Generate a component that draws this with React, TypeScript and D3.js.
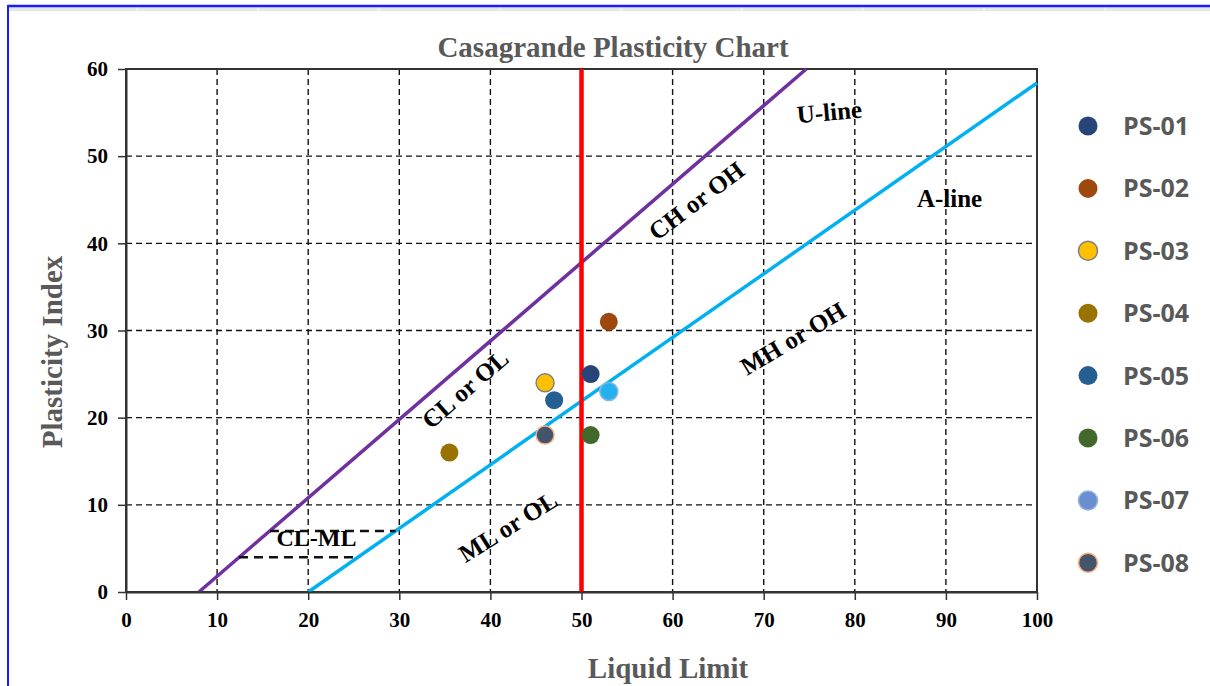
import * as d3 from "d3";
import { useEffect, useRef } from "react";

// samples plotted on the chart
const sampleNames = ["PS-01", "PS-02", "PS-03", "PS-04", "PS-05", "PS-06", "PS-07", "PS-08"];
const liquidLimit = [51, 53, 46, 35.5, 47, 51, 53, 46];
const plasticityIndex = [25, 31, 24, 16, 22, 18, 23, 18];
const legendColors = ["#264478", "#9E480E", "#FFC000", "#997300", "#255E91", "#43682B", "#698ED0", "#44546A"];
const markerFills = ["#264478", "#9E480E", "#FFC000", "#997300", "#255E91", "#43682B", "#22B2F0", "#44546A"];
const markerStrokes = ["none", "none", "#808080", "none", "none", "none", "#8DB3E6", "#F4B183"];

const xTicks = [0, 10, 20, 30, 40, 50, 60, 70, 80, 90, 100];
const yTicks = [0, 10, 20, 30, 40, 50, 60];

// reference lines (end points)
const uLineLL = [8, 74.67];
const uLinePI = [0, 60];
const aLineLL = [20, 100];
const aLinePI = [0, 58.4];
const clmlUpperLL = [15.8, 29.6];
const clmlUpperPI = [7, 7];
const clmlLowerLL = [12.4, 25.5];
const clmlLowerPI = [4, 4];
const boundaryLL = 50;

// zone labels
const zoneNames = ["U-line", "A-line", "CH or OH", "CL or OL", "MH or OH", "ML or OL", "CL-ML"];
const zoneLL = [77.2, 90.4, 62.6, 37.2, 73.2, 41.9, 20.9];
const zonePI = [55.1, 45.2, 44.9, 23.3, 29.1, 7.5, 6.2];
const zoneAngle = [-5, 0, -37, -41, -31, -32, 0];

const serif = "'Liberation Serif', 'Times New Roman', serif";

function drawChart(svgElement: SVGSVGElement) {
  const width = 1210;
  const height = 686;
  const svg = d3.select(svgElement);
  svg.selectAll("*").remove();
  svg.attr("width", width).attr("height", height).attr("viewBox", `0 0 ${width} ${height}`);

  svg.append("rect").attr("width", width).attr("height", height).attr("fill", "#fff");

  // spreadsheet-ish frame
  const strip = svg.append("g");
  strip.append("rect").attr("x", 8).attr("y", 7).attr("width", width - 8).attr("height", 4).attr("fill", "#e6e6e6");
  strip
    .selectAll("line")
    .data(d3.range(137, width, 121))
    .join("line")
    .attr("x1", (d) => d)
    .attr("x2", (d) => d)
    .attr("y1", 7)
    .attr("y2", 11)
    .attr("stroke", "#f8f8f8");
  svg.append("line").attr("x1", 8).attr("x2", width).attr("y1", 6).attr("y2", 6).attr("stroke", "#1a1aff").attr("stroke-width", 2.5);
  svg.append("line").attr("x1", 8).attr("x2", 8).attr("y1", 5).attr("y2", height).attr("stroke", "#1a1aff").attr("stroke-width", 2);

  const x = d3.scaleLinear().domain([0, 100]).range([126, 1037]);
  const y = d3.scaleLinear().domain([0, 60]).range([592, 69]);

  // grid
  const grid = svg.append("g").attr("stroke", "#111").attr("stroke-width", 1.4).attr("stroke-dasharray", "6,4");
  grid
    .selectAll(".gx")
    .data(xTicks.slice(1, -1))
    .join("line")
    .attr("x1", (d) => x(d))
    .attr("x2", (d) => x(d))
    .attr("y1", y(60))
    .attr("y2", y(0));
  grid
    .selectAll(".gy")
    .data(yTicks.slice(1, -1))
    .join("line")
    .attr("x1", x(0))
    .attr("x2", x(100))
    .attr("y1", (d) => y(d))
    .attr("y2", (d) => y(d));

  // plot frame
  svg
    .append("rect")
    .attr("x", x(0))
    .attr("y", y(60))
    .attr("width", x(100) - x(0))
    .attr("height", y(0) - y(60))
    .attr("fill", "none")
    .attr("stroke", "#333")
    .attr("stroke-width", 2);

  const line = d3
    .line<[number, number]>()
    .x((d) => x(d[0]))
    .y((d) => y(d[1]));

  svg
    .append("path")
    .attr("d", line(d3.zip(uLineLL, uLinePI) as [number, number][]))
    .attr("stroke", "#7030A0")
    .attr("stroke-width", 3.5)
    .attr("fill", "none");
  svg
    .append("path")
    .attr("d", line(d3.zip(aLineLL, aLinePI) as [number, number][]))
    .attr("stroke", "#00B0F0")
    .attr("stroke-width", 3.5)
    .attr("fill", "none");
  [
    [clmlUpperLL, clmlUpperPI],
    [clmlLowerLL, clmlLowerPI],
  ].forEach(([ll, pi]) => {
    svg
      .append("path")
      .attr("d", line(d3.zip(ll, pi) as [number, number][]))
      .attr("stroke", "#111")
      .attr("stroke-width", 2.5)
      .attr("stroke-dasharray", "9,6")
      .attr("fill", "none");
  });
  svg
    .append("line")
    .attr("x1", x(boundaryLL))
    .attr("x2", x(boundaryLL))
    .attr("y1", y(60))
    .attr("y2", y(0))
    .attr("stroke", "#FF0000")
    .attr("stroke-width", 4.5);

  // axes
  const xAxis = svg
    .append("g")
    .attr("transform", `translate(0,${y(0)})`)
    .call(d3.axisBottom(x).tickValues(xTicks).tickSize(8).tickSizeOuter(0).tickPadding(12));
  const yAxis = svg
    .append("g")
    .attr("transform", `translate(${x(0)},0)`)
    .call(d3.axisLeft(y).tickValues(yTicks).tickSize(8).tickSizeOuter(0).tickPadding(10));
  [xAxis, yAxis].forEach((axis) => {
    axis.select(".domain").attr("stroke", "#333").attr("stroke-width", 2);
    axis.selectAll(".tick line").attr("stroke", "#333").attr("stroke-width", 1.5);
    axis
      .selectAll(".tick text")
      .attr("fill", "#000")
      .attr("font-family", serif)
      .attr("font-weight", "bold")
      .attr("font-size", 21);
  });

  // zone labels
  svg
    .append("g")
    .selectAll("text")
    .data(zoneNames)
    .join("text")
    .attr("transform", (d, i) => `translate(${x(zoneLL[i])},${y(zonePI[i])}) rotate(${zoneAngle[i]})`)
    .attr("text-anchor", "middle")
    .attr("dy", "0.35em")
    .attr("font-family", serif)
    .attr("font-weight", "bold")
    .attr("font-size", (d) => (d === "CL-ML" ? 24 : 25))
    .attr("fill", "#000")
    .text((d) => d);

  // samples
  svg
    .append("g")
    .selectAll("circle")
    .data(sampleNames)
    .join("circle")
    .attr("cx", (d, i) => x(liquidLimit[i]))
    .attr("cy", (d, i) => y(plasticityIndex[i]))
    .attr("r", 9)
    .attr("fill", (d, i) => markerFills[i])
    .attr("stroke", (d, i) => markerStrokes[i])
    .attr("stroke-width", 1.5);

  // legend
  const legend = svg
    .append("g")
    .selectAll("g")
    .data(sampleNames)
    .join("g")
    .attr("transform", (d, i) => `translate(1088,${126 + i * 62.4})`);
  legend
    .append("circle")
    .attr("r", 9.5)
    .attr("fill", (d, i) => legendColors[i])
    .attr("stroke", (d, i) => markerStrokes[i])
    .attr("stroke-width", 1.5);
  legend
    .append("text")
    .attr("x", 35)
    .attr("dy", "0.36em")
    .attr("font-family", "'Open Sans', sans-serif")
    .attr("font-weight", "bold")
    .attr("font-size", 25)
    .attr("fill", "#595959")
    .text((d) => d);

  // titles
  svg
    .append("text")
    .attr("x", 613)
    .attr("y", 57)
    .attr("text-anchor", "middle")
    .attr("font-family", serif)
    .attr("font-weight", "bold")
    .attr("font-size", 29)
    .attr("fill", "#595959")
    .text("Casagrande Plasticity Chart");
  svg
    .append("text")
    .attr("x", 668)
    .attr("y", 678)
    .attr("text-anchor", "middle")
    .attr("font-family", serif)
    .attr("font-weight", "bold")
    .attr("font-size", 29)
    .attr("fill", "#595959")
    .text("Liquid Limit");
  svg
    .append("text")
    .attr("transform", "translate(52,352) rotate(-90)")
    .attr("text-anchor", "middle")
    .attr("dy", "0.35em")
    .attr("font-family", serif)
    .attr("font-weight", "bold")
    .attr("font-size", 29)
    .attr("fill", "#595959")
    .text("Plasticity Index");
}

export default function App() {
  const svgRef = useRef<SVGSVGElement>(null);

  useEffect(() => {
    if (svgRef.current) drawChart(svgRef.current);
  }, []);

  return (
    <svg
      ref={svgRef}
      role="img"
      aria-label="Casagrande Plasticity Chart"
      style={{ position: "absolute", left: 0, top: 0, display: "block" }}
    />
  );
}
